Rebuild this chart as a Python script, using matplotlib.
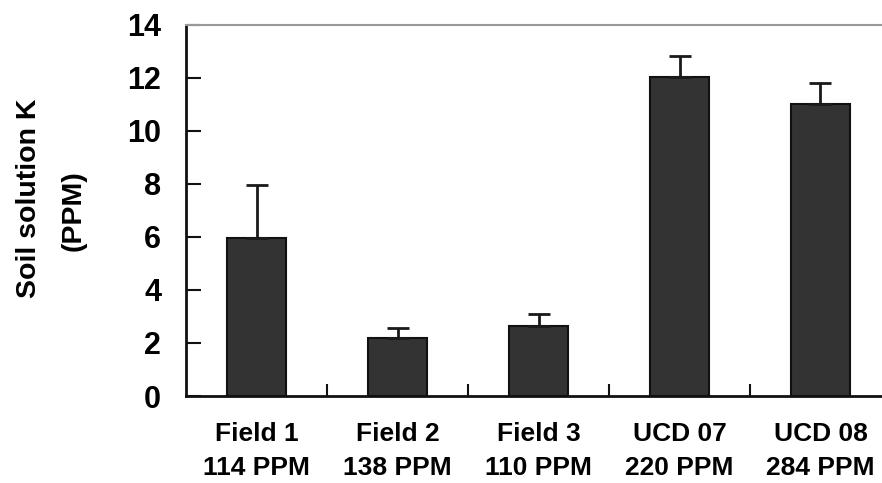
import numpy as np
import matplotlib
matplotlib.use("Agg")
import matplotlib.pyplot as plt
from matplotlib.transforms import blended_transform_factory

# Soil solution potassium per site, with the site's PPM rating
sites = ["Field 1", "Field 2", "Field 3", "UCD 07", "UCD 08"]
site_ppm = ["114 PPM", "138 PPM", "110 PPM", "220 PPM", "284 PPM"]
soil_k = [5.95, 2.2, 2.65, 12.03, 10.99]
soil_k_err = [2.0, 0.35, 0.43, 0.77, 0.82]

plt.rcParams['font.family'] = ['Liberation Sans', 'DejaVu Sans']
plt.rcParams['font.weight'] = 'bold'

fig = plt.figure(figsize=(8.82, 4.83), dpi=100)
ax = fig.add_axes([0.2109, 0.1801, 0.7993, 0.7689])

x = np.arange(len(sites))
ax.bar(x, soil_k, width=0.42, color='#333333', edgecolor='#111111', linewidth=1.5, zorder=2)
ax.errorbar(x, soil_k, yerr=[np.zeros(len(soil_k)), soil_k_err], fmt='none',
            ecolor='#1a1a1a', elinewidth=2, capsize=8, capthick=2, zorder=3)

ax.set_xlim(-0.5, len(sites) - 0.5)
ax.set_ylim(0, 14)
ax.set_yticks(np.arange(0, 15, 2))

# category labels at the bar centres, small ticks between the groups
ax.set_xticks(x)
ax.set_xticklabels([f"{s}\n{p}" for s, p in zip(sites, site_ppm)],
                   fontsize=19, fontweight='bold', linespacing=1.5)
ax.set_xticks(np.arange(0.5, len(sites) - 0.5, 1), minor=True)
ax.tick_params(axis='x', which='major', length=0, pad=19)
ax.tick_params(axis='x', which='minor', direction='in', length=9, width=1.5, color='#111111')
ax.tick_params(axis='y', direction='in', length=11, width=1.5, pad=18,
               labelsize=22, color='#111111')
for lab in ax.get_yticklabels():
    lab.set_fontweight('bold')

ax.spines['left'].set_linewidth(2)
ax.spines['left'].set_color('#111111')
ax.spines['bottom'].set_linewidth(2)
ax.spines['bottom'].set_color('#111111')
ax.spines['top'].set_color('#999999')
ax.spines['top'].set_linewidth(1.5)
ax.spines['right'].set_visible(False)

# two-line y axis title, each line placed on its own
trans = blended_transform_factory(fig.transFigure, ax.transAxes)
ax.text(29.5 / 882, 0.532, "Soil solution K", transform=trans, rotation=90,
        ha='center', va='center', fontsize=20.5, fontweight='bold')
ax.text(74 / 882, 0.50, "(PPM)", transform=trans, rotation=90,
        ha='center', va='center', fontsize=20.5, fontweight='bold')

fig.savefig("out.png", dpi=100)
